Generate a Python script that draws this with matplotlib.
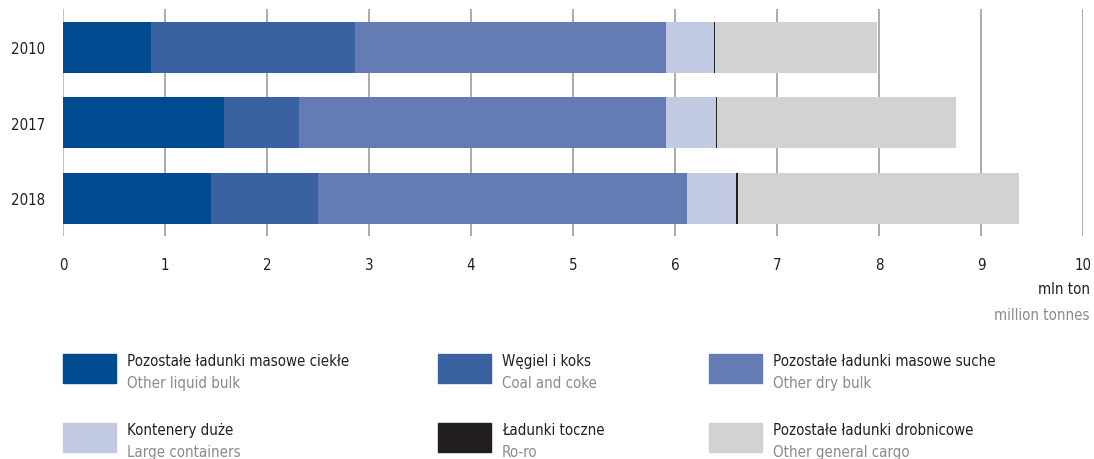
import matplotlib
matplotlib.use("Agg")
import matplotlib.pyplot as plt
from matplotlib.patches import Rectangle

# condensed DejaVu stands in for the narrow face of the original
plt.rcParams["font.family"] = ["DejaVu Sans"]
plt.rcParams["font.stretch"] = "condensed"

# ── data (mln tonnes) ─────────────────────────────────────────────────────────
years = ["2010", "2017", "2018"]
liquid_bulk = [0.86, 1.58, 1.45]
coal_coke = [2.00, 0.73, 1.05]
dry_bulk = [3.05, 3.60, 3.62]
containers = [0.47, 0.49, 0.48]
ro_ro = [0.015, 0.015, 0.015]
general_cargo = [1.59, 2.34, 2.76]

series_pl = ["Pozostałe ładunki masowe ciekłe", "Węgiel i koks",
             "Pozostałe ładunki masowe suche", "Kontenery duże",
             "Ładunki toczne", "Pozostałe ładunki drobnicowe"]
series_en = ["Other liquid bulk", "Coal and coke", "Other dry bulk",
             "Large containers", "Ro-ro", "Other general cargo"]
x_ticks = list(range(0, 11))

colors = ["#004a8f", "#3a62a0", "#657bb3", "#c1c9e3", "#231f20", "#d1d2d4"]
DARK = "#231f20"
GREY = "#8a8a8c"
FS = 10.8

# ── plot ──────────────────────────────────────────────────────────────────────
fig = plt.figure(figsize=(10.94, 4.6), dpi=100)
ax = fig.add_axes([63 / 1094, 1 - 237 / 460, 1020 / 1094, 227 / 460])

values = [liquid_bulk, coal_coke, dry_bulk, containers, ro_ro, general_cargo]
y = list(range(len(years)))
left = [0.0] * len(years)
for vals, col in zip(values, colors):
    ax.barh(y, vals, left=left, height=0.675, color=col, edgecolor="none", zorder=3)
    left = [l + v for l, v in zip(left, vals)]

ax.set_xlim(0, 10)
ax.set_ylim(2.5, -0.51)
ax.set_xticks(x_ticks)
ax.set_xticklabels([str(t) for t in x_ticks], fontsize=FS, color=DARK)
ax.set_yticks(y)
ax.set_yticklabels(years, fontsize=FS, color=DARK)
ax.tick_params(axis="x", length=0, pad=15)
ax.tick_params(axis="y", length=0, pad=13)
for s in ax.spines.values():
    s.set_visible(False)
for t in x_ticks:
    ax.axvline(t, color="#b5b5b5" if t == 0 else "#9d9d9d", lw=1.2, zorder=1)

fig.text(1090 / 1094, 1 - 290 / 460, "mln ton", ha="right", va="center",
         fontsize=FS, color=DARK)
fig.text(1090 / 1094, 1 - 315 / 460, "million tonnes", ha="right", va="center",
         fontsize=FS, color=GREY)

# ── legend ────────────────────────────────────────────────────────────────────
col_x = [63, 438, 709]
row_y = [355, 424]
for i, (pl, en, col) in enumerate(zip(series_pl, series_en, colors)):
    px = col_x[i % 3]
    py = row_y[i // 3]
    fig.patches.append(Rectangle((px / 1094, 1 - (py + 29) / 460), 53 / 1094, 29 / 460,
                                 transform=fig.transFigure, color=col))
    fig.text((px + 64) / 1094, 1 - (py + 7) / 460, pl, ha="left", va="center",
             fontsize=FS, color=DARK)
    fig.text((px + 64) / 1094, 1 - (py + 29) / 460, en, ha="left", va="center",
             fontsize=FS, color=GREY)

fig.savefig("out.png", dpi=100)
